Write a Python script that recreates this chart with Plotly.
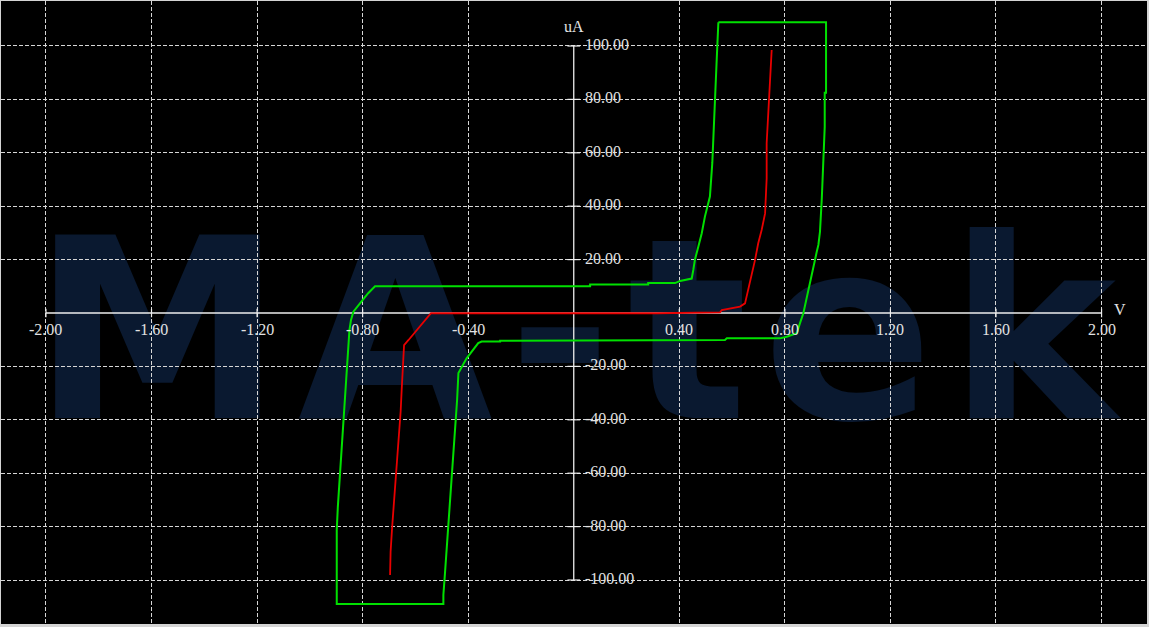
import plotly.graph_objects as go

# ---------------- data ----------------
x_ticks = [-2.0, -1.6, -1.2, -0.8, -0.4, 0.4, 0.8, 1.2, 1.6, 2.0]
x_tick_labels = ["-2.00", "-1.60", "-1.20", "-0.80", "-0.40", "0.40", "0.80", "1.20", "1.60", "2.00"]
y_ticks = [-100, -80, -60, -40, -20, 20, 40, 60, 80, 100]
y_tick_labels = ["-100.00", "-80.00", "-60.00", "-40.00", "-20.00", "20.00", "40.00", "60.00", "80.00", "100.00"]
x_unit = "V"
y_unit = "uA"
watermark = "MA-tek"

# green loop (V, uA)
green_v = [0.548, 0.956, 0.956, 0.951, 0.951, 0.946, 0.940, 0.933, 0.927, 0.921, 0.870, 0.857, 0.845,
           0.807, 0.782, 0.580, 0.573, -0.279, -0.279, -0.349, -0.362, -0.406, -0.425, -0.437, -0.442,
           -0.450, -0.456, -0.462, -0.469, -0.475, -0.481, -0.488, -0.494, -0.494, -0.898, -0.898,
           -0.894, -0.888, -0.882, -0.876, -0.871, -0.863, -0.857, -0.854, -0.850, -0.844, -0.835,
           -0.810, -0.779, -0.753, 0.062, 0.062, 0.282, 0.282, 0.384, 0.403, 0.447, 0.453, 0.459,
           0.472, 0.485, 0.497, 0.505, 0.516, 0.525, 0.530, 0.536, 0.542, 0.548]
green_i = [108.9, 108.9, 82.5, 82.5, 69.7, 56.2, 43.1, 30.4, 25.5, 23.0, -0.1, -3.9, -7.6,
           -8.9, -9.5, -9.5, -10.1, -10.4, -10.7, -10.7, -11.3, -17.0, -20.1, -22.5, -32.6,
           -44.5, -53.8, -61.8, -70.0, -79.4, -87.5, -97.5, -105.6, -109.0, -109.0, -81.3,
           -72.7, -63.7, -55.1, -46.8, -37.5, -28.8, -20.6, -12.0, -6.4, -2.6, 0.5,
           3.6, 7.4, 10.0, 10.0, 10.7, 10.7, 11.2, 11.2, 12.0, 12.9, 16.1, 19.9,
           24.8, 29.9, 36.1, 39.8, 43.6, 56.2, 69.3, 82.0, 95.5, 108.9]

# red curve (V, uA)
red_v = [-0.696, -0.694, -0.688, -0.681, -0.675, -0.669, -0.662, -0.656, -0.652, -0.646, -0.643,
         -0.626, -0.583, -0.551, -0.541, 0.314, 0.554, 0.561, 0.599, 0.630, 0.649, 0.655, 0.668,
         0.687, 0.699, 0.712, 0.725, 0.728, 0.731, 0.731, 0.737, 0.744, 0.750]
red_i = [-98.1, -89.4, -80.0, -71.9, -62.5, -54.4, -45.7, -37.0, -28.8, -20.1, -12.0,
         -10.1, -5.1, -1.4, -0.1, -0.1, 0.2, 1.1, 1.8, 2.4, 3.6, 6.1, 11.1,
         19.9, 26.1, 31.1, 37.3, 42.3, 50.4, 63.6, 76.0, 89.5, 98.5]

# ---------------- styling ----------------
BG = "#000000"
GRID = "#d6d6d6"
AXIS = "#eeeeee"
LABEL = "#e2e2e2"
GREEN = "#00e000"
RED = "#e80000"
WM = "#0a1930"
FONT = "Liberation Serif"

fig = go.Figure()

# axis lines
fig.add_trace(go.Scatter(x=[min(x_ticks), max(x_ticks)], y=[0, 0], mode="lines",
                         line=dict(color=AXIS, width=1.6), hoverinfo="skip"))
fig.add_trace(go.Scatter(x=[0, 0], y=[min(y_ticks), max(y_ticks)], mode="lines",
                         line=dict(color=AXIS, width=1.3), hoverinfo="skip"))

# tick marks
dx = 0.024
tx, ty = [], []
for v in y_ticks:
    tx += [-dx, dx, None]
    ty += [v, v, None]
fig.add_trace(go.Scatter(x=tx, y=ty, mode="lines", line=dict(color=AXIS, width=1.2), hoverinfo="skip"))
dy = 1.6
tx, ty = [], []
for v in x_ticks:
    tx += [v, v, None]
    ty += [-dy, dy, None]
fig.add_trace(go.Scatter(x=tx, y=ty, mode="lines", line=dict(color=AXIS, width=1.2), hoverinfo="skip"))

# curves
fig.add_trace(go.Scatter(x=green_v, y=green_i, mode="lines", line=dict(color=GREEN, width=2),
                         hoverinfo="skip"))
fig.add_trace(go.Scatter(x=red_v, y=red_i, mode="lines", line=dict(color=RED, width=1.8),
                         hoverinfo="skip"))

annotations = []
for v, t in zip(x_ticks, x_tick_labels):
    annotations.append(dict(x=v, y=0, xref="x", yref="y", text=t, showarrow=False,
                            xanchor="center", yanchor="middle", yshift=-17,
                            font=dict(family=FONT, size=16, color=LABEL)))
for v, t in zip(y_ticks, y_tick_labels):
    annotations.append(dict(x=0, y=v, xref="x", yref="y", text=t, showarrow=False,
                            xanchor="left", yanchor="middle", xshift=9, yshift=1.5,
                            font=dict(family=FONT, size=16, color=LABEL)))
annotations.append(dict(x=0, y=max(y_ticks), xref="x", yref="y", text=y_unit, showarrow=False,
                        xanchor="center", yanchor="middle", yshift=19,
                        font=dict(family=FONT, size=16, color=LABEL)))
annotations.append(dict(x=max(x_ticks), y=0, xref="x", yref="y", text=x_unit, showarrow=False,
                        xanchor="left", yanchor="middle", xshift=10, yshift=3,
                        font=dict(family=FONT, size=16, color=LABEL)))

gap = '<span style="font-size:150px">\u200a</span>'
wm_text = gap.join(watermark)
shapes = [dict(type="rect", xref="paper", yref="paper", x0=0, x1=1, y0=0, y1=1,
               line=dict(width=0), fillcolor="rgba(0,0,0,0)", layer="below",
               label=dict(text="<b>" + wm_text + "</b>", textposition="middle center",
                          font=dict(family="DejaVu Sans", size=252, color=WM)))]

fig.update_layout(
    width=1149, height=627,
    margin=dict(l=1, r=2, t=1, b=3),
    paper_bgcolor="#d4d4d4",
    plot_bgcolor=BG,
    showlegend=False,
    hovermode=False,
    annotations=annotations,
    shapes=shapes,
    xaxis=dict(range=[-2.1703, 2.1722], tickmode="array", tickvals=x_ticks, showticklabels=False,
               showgrid=True, gridcolor=GRID, gridwidth=1, griddash="4px,2px", zeroline=False,
               showline=False, ticks="", fixedrange=True),
    yaxis=dict(range=[-116.48, 116.85], tickmode="array", tickvals=y_ticks, showticklabels=False,
               showgrid=True, gridcolor=GRID, gridwidth=1, griddash="4px,2px", zeroline=False,
               showline=False, ticks="", fixedrange=True),
)

fig.write_html("out.html", config={"displayModeBar": False},
               post_script="document.body.style.margin='0';document.body.style.overflow='hidden';")
